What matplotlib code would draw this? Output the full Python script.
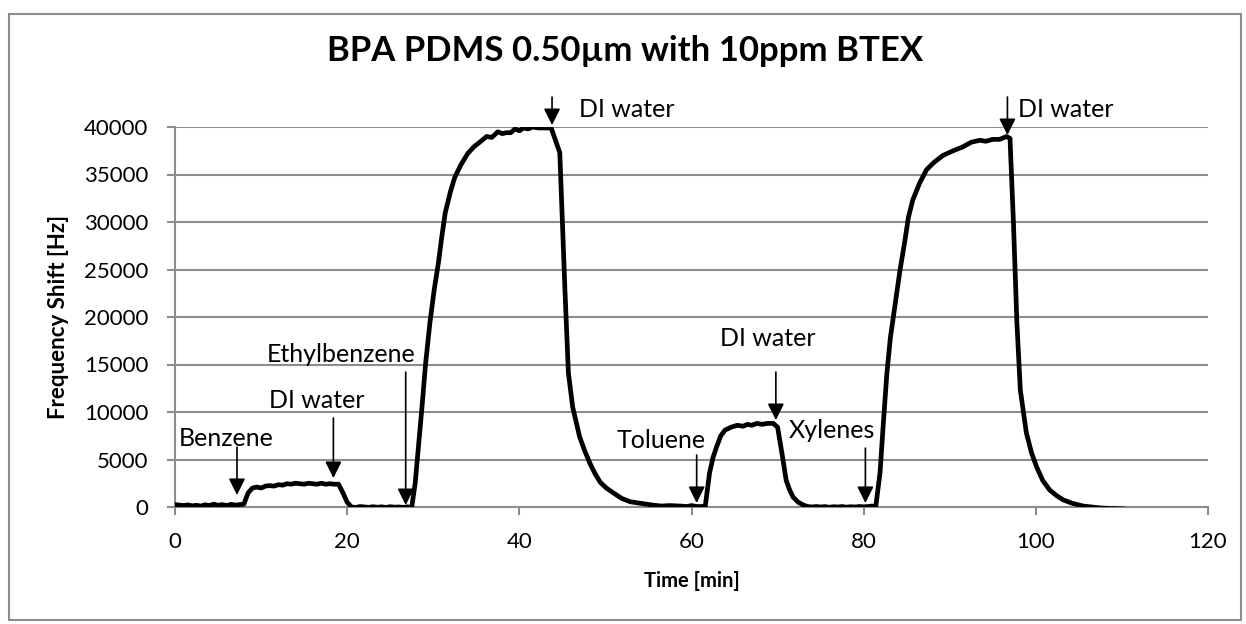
import matplotlib
matplotlib.use("Agg")
import matplotlib.pyplot as plt
from matplotlib.patches import Rectangle

plt.rcParams['font.family'] = ['Lato', 'DejaVu Sans']

# time [min] and frequency shift [Hz]
time_min = [0, 0.5, 1, 1.5, 2, 2.5, 3, 3.5, 4, 4.5, 5, 5.5, 6, 6.5, 7, 7.5, 8,
            8.5, 9, 9.5, 10, 10.5, 11, 11.5, 12, 12.5, 13, 13.5, 14, 14.5, 15,
            15.5, 16, 16.5, 17, 17.5, 18, 18.5, 19, 19.5, 20, 20.5, 21, 21.5,
            22, 22.5, 23, 23.5, 24, 24.5, 25, 25.5, 26, 26.5, 27, 27.5,
            27.9, 28.3, 28.7, 29.1, 29.6, 30.1, 30.6, 31.0, 31.4, 32.0, 32.5,
            33.2, 34.0, 34.7, 35.4, 36.2, 36.8, 37.5, 38.0, 38.5, 39.0, 39.5,
            40.0, 40.5, 41.0, 41.6, 42.2, 42.8, 43.7, 44.7, 45.0, 45.3, 45.7,
            46.2, 47.0, 47.6, 48.2, 48.8, 49.4, 50.1, 50.9, 51.9, 52.9, 54.0,
            55.5, 56.5, 57.5, 58.7, 59.5, 60.0, 60.6, 61.2, 61.6,
            62.1, 62.5, 62.9, 63.4, 63.9, 64.6, 65.3, 66.0, 66.5, 67.0, 67.6,
            68.2, 68.8, 69.5, 70.0, 70.5, 71.0, 71.4, 71.8, 72.4, 73.0, 73.5,
            74.0, 74.5, 75.0, 75.5, 76.0, 76.5, 77.0, 77.5, 78.0, 78.5, 79.0,
            79.5, 80.0, 80.5, 81.0, 81.4,
            81.9, 82.3, 82.7, 83.1, 83.6, 84.2, 84.8, 85.2, 85.7, 86.5, 87.3,
            88.2, 89.2, 90.4, 91.5, 92.5, 93.5, 94.2, 95.0, 95.8, 96.6, 97.0,
            97.4, 97.8, 98.2, 98.9, 99.5, 100.1, 100.8, 101.6, 102.4, 103.2,
            104.2, 105.5, 106.5, 107.5, 108.5, 110.1]
shift_hz = [250, 200, 150, 220, 120, 180, 100, 230, 150, 300, 180, 250, 150, 280, 200, 250, 300,
            1500, 2000, 2100, 2000, 2200, 2250, 2200, 2350, 2300, 2450, 2400, 2500, 2450, 2400,
            2500, 2450, 2400, 2500, 2400, 2450, 2400, 2400, 1500, 500, 0, -50, 50,
            0, -40, 30, -30, 20, -50, 30, -20, 0, -40, 20, -50,
            2500, 6500, 10600, 15000, 19300, 22800, 25700, 28500, 31000, 33200, 34700,
            36000, 37200, 37900, 38400, 39000, 38900, 39500, 39300, 39400, 39400, 39800,
            39600, 39900, 39800, 40000, 39900, 39900, 39900, 37300, 29900, 22800, 14100,
            10500, 7400, 5900, 4600, 3500, 2600, 2000, 1500, 900, 550, 400,
            200, 100, 150, 100, 50, 150, 50, 50, 100,
            3600, 5200, 6300, 7500, 8100, 8400, 8600, 8500, 8700, 8600, 8800,
            8700, 8800, 8800, 8400, 5700, 2800, 1800, 1050, 500, 200, 50,
            0, 50, 0, 40, -30, 30, 0, 50, -20, 30, 0,
            50, 20, 50, 100, 0,
            3600, 9000, 14100, 17800, 21000, 24800, 28100, 30500, 32300, 34100, 35500,
            36300, 37000, 37500, 37900, 38400, 38600, 38500, 38700, 38700, 39000, 38800,
            29900, 19400, 12300, 7800, 5700, 4200, 2800, 1800, 1200, 740,
            400, 100, 0, -100, -150, -200]

# injection annotations: label, label position, arrow tail, arrow tip
labels = ['Benzene', 'DI water', 'Ethylbenzene', 'DI water', 'Toluene',
          'DI water', 'Xylenes', 'DI water']
label_t = [6.0, 16.5, 19.3, 46.9, 56.5, 68.9, 76.3, 97.9]
label_f = [7260, 11260, 16100, 41800, 7050, 17700, 8000, 41800]
label_ha = ['center', 'center', 'center', 'left', 'center', 'center', 'center', 'left']
arrow_t = [7.2, 18.4, 26.8, 43.8, 60.6, 69.8, 80.2, 96.7]
arrow_tail = [6300, 9370, 14200, 43150, 5470, 14200, 6200, 43150]
arrow_tip = [1260, 3050, 200, 40200, 420, 9150, 420, 39150]

x_ticks = [0, 20, 40, 60, 80, 100, 120]
y_ticks = [0, 5000, 10000, 15000, 20000, 25000, 30000, 35000, 40000]

grid_col = '#8c8c8c'

fig = plt.figure(figsize=(12.46, 6.24), dpi=100)
ax = fig.add_axes([175/1246, 1-507/624, (1208-175)/1246, (507-127)/624])

ax.plot(time_min, shift_hz, color='black', lw=3.4, solid_joinstyle='round', zorder=3)

for i in range(len(labels)):
    ax.annotate('', xy=(arrow_t[i], arrow_tip[i]), xytext=(arrow_t[i], arrow_tail[i]),
                arrowprops=dict(arrowstyle='-|>,head_length=0.5,head_width=0.25',
                                mutation_scale=20, color='black', lw=1.2,
                                shrinkA=0, shrinkB=0),
                annotation_clip=False, zorder=4)
    ax.text(label_t[i], label_f[i], labels[i], ha=label_ha[i], va='center',
            fontsize=18, clip_on=False, zorder=5)

ax.set_xlim(0, 120)
ax.set_ylim(0, 40000)
ax.set_xticks(x_ticks)
ax.set_yticks(y_ticks)
ax.set_xticklabels([str(v) for v in x_ticks])
ax.set_yticklabels([str(v) for v in y_ticks])
ax.tick_params(axis='both', labelsize=16, length=6, width=1.5, color=grid_col)
ax.tick_params(axis='x', pad=12)
ax.tick_params(axis='y', pad=13)

ax.grid(axis='y', color=grid_col, lw=1.5)
ax.set_axisbelow(True)
for s in ['top', 'right']:
    ax.spines[s].set_visible(False)
for s in ['left', 'bottom']:
    ax.spines[s].set_color(grid_col)
    ax.spines[s].set_linewidth(1.5)

ax.set_xlabel('Time [min]', fontsize=14.5, fontweight='bold', labelpad=14)
ax.set_ylabel('Frequency Shift [Hz]', fontsize=16, fontweight='bold', labelpad=11)

fig.text(0.502, 1-51/624, 'BPA PDMS 0.50µm with 10ppm BTEX', ha='center', va='center',
         fontsize=25, fontweight='bold')

# outer chart frame
fig.patches.append(Rectangle((9/1246, 4/624), 1232/1246, 606/624, transform=fig.transFigure,
                             fill=False, edgecolor=grid_col, lw=1.5))

fig.savefig('out.png', dpi=100)
